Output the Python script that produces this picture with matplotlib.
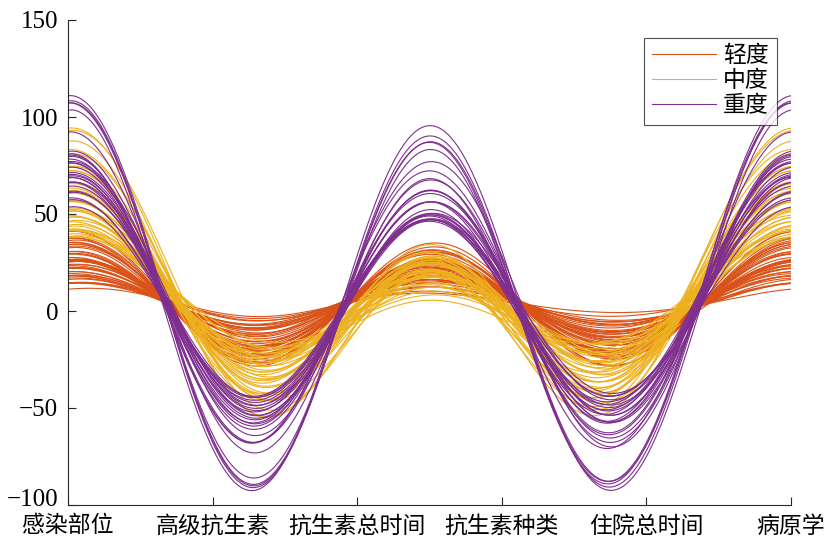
import numpy as np
import pandas as pd
import matplotlib
matplotlib.use("Agg")
import matplotlib.pyplot as plt
import matplotlib.transforms as mtransforms

plt.rcParams['font.family'] = ['Liberation Serif', 'Noto Sans CJK SC', 'DejaVu Sans']
plt.rcParams['axes.unicode_minus'] = True

variables = ['感染部位', '高级抗生素', '抗生素总时间', '抗生素种类', '住院总时间', '病原学']
groups = ['轻度', '中度', '重度']
colors = ['#D95319', '#EDB120', '#7E2F8E']

# ---- 轻度 ----
mild_site  = [6,5,7,6,6, 5,7,6,5,6, 7,6,5,6,6, 7,5,6,6,5, 7,6,6,5,6, 7,6,5,6,6, 5,7,6,6,5, 6,7,5,6,6, 7,5,6,6]
mild_adv   = [0,1,0,0,1, 0,1,0,0,1, 0,0,1,0,1, 0,0,1,0,0, 1,0,1,0,0, 1,0,0,1,0, 0,1,0,1,0, 0,1,0,0,1, 0,1,0,0]
mild_abt   = [2,3,1,2,4, 1,2,3,0,2, 3,1,2,4,1, 3,2,0,3,2, 1,2,4,1,3, 2,0,2,1,3, 2,4,1,2,3, 0,2,3,1,2, 1,3,2,1]
mild_kind  = [1,2,1,2,3, 1,1,2,2,1, 3,1,2,2,1, 2,2,1,3,2, 1,1,2,2,3, 2,1,2,1,2, 2,3,2,1,2, 1,2,2,2,3, 1,2,1,1]
mild_stay  = [8,31,12,19,25, 10,15,28,22,17, 33,13,20,26,9, 18,24,14,29,21, 11,16,27,23,30, 19,12,25,15,22, 18,32,20,14,26, 10,17,24,21,28, 16,23,13,6]
mild_path  = [1,0,0,1,0, 1,0,1,1,0, 0,1,0,1,0, 1,0,0,1,1, 0,1,0,0,1, 0,1,1,0,0, 1,0,1,0,1, 1,0,0,1,0, 1,0,0,1]

# ---- 中度 ----
mod_site  = [6,5,6,7,6, 5,6,6,7,5, 6,6,5,7,6, 6,5,6,7,6, 5,6,6,7,5, 6,6,5,7,6, 6,5,6,7,6, 5,6,6]
mod_adv   = [1,0,1,1,0, 1,0,1,1,0, 1,0,1,1,0, 1,0,1,0,1, 1,0,1,0,1, 1,0,1,0,1, 1,0,1,1,0, 1,0,1]
mod_abt   = [34,30,20,28,22, 18,24,20,16,22, 18,14,20,16,12, 18,15,12,17,14, 10,16,12,14,10, 16,12,14,10,16, 13,18,15,36,32, 28,24,20]
mod_kind  = [2,3,2,2,3, 1,2,3,2,2, 1,3,2,2,3, 2,1,2,3,2, 2,1,3,2,2, 3,2,1,2,2, 3,2,2,3,2, 2,1,2]
mod_stay  = [56,54,50,48,46, 45,44,42,41,40, 39,38,37,36,35, 34,33,32,31,30, 30,29,28,27,26, 26,25,24,23,22, 21,20,19,52,47, 43,35,28]
mod_path  = [1,1,0,1,0, 1,1,0,1,1, 0,1,1,0,1, 0,1,1,0,1, 1,0,1,0,1, 1,0,1,1,0, 1,1,0,1,0, 1,1,0]

# ---- 重度 ----
sev_site  = [6,7,6,6,5, 6,7,6,5,6, 6,7,6,5,6, 6,7,6,5,6, 6,7,5,6,6, 7,6,5]
sev_adv   = [1,1,0,1,1, 0,1,1,0,1, 1,0,1,1,1, 0,1,1,0,1, 1,0,1,1,0, 1,1,0]
sev_abt   = [9,12,10,12,4, 12,2,4,6,10, 8,6,10,4,12, 7,14,5,10,12, 8,11,6,9,4, 7,5,3]
sev_kind  = [3,2,3,2,3, 2,3,2,3,3, 2,3,2,3,2, 3,2,3,3,2, 3,2,3,2,3, 3,2,3]
sev_stay  = [95,94,93,91,96, 76,74,72,70,68, 66,63,62,61,60, 59,58,57,56,55, 54,53,52,51,50, 49,48,47]
sev_path  = [1,1,1,0,1, 1,0,1,1,1, 0,1,1,1,0, 1,1,0,1,1, 1,0,1,1,0, 1,1,1]

tables = [
    pd.DataFrame(dict(zip(variables, [mild_site, mild_adv, mild_abt, mild_kind, mild_stay, mild_path]))),
    pd.DataFrame(dict(zip(variables, [mod_site, mod_adv, mod_abt, mod_kind, mod_stay, mod_path]))),
    pd.DataFrame(dict(zip(variables, [sev_site, sev_adv, sev_abt, sev_kind, sev_stay, sev_path]))),
]

t = np.linspace(0, 1, 301)
basis = np.vstack([
    np.full_like(t, 1 / np.sqrt(2)),
    np.sin(2 * np.pi * t), np.cos(2 * np.pi * t),
    np.sin(4 * np.pi * t), np.cos(4 * np.pi * t),
    np.sin(6 * np.pi * t),
])

fig = plt.figure(figsize=(8.27, 5.38), dpi=100)
ax = fig.add_axes([68 / 827, 1 - 505 / 538, 723 / 827, 485 / 538])

handles = []
for df, col, name in zip(tables, colors, groups):
    curves = df[variables].to_numpy(dtype=float) @ basis
    for k, y in enumerate(curves):
        ln, = ax.plot(t, y, color=col, lw=0.8, label=name if k == 0 else None)
        if k == 0:
            handles.append(ln)

ax.set_xlim(0, 1)
ax.set_ylim(-100, 150)
ax.set_xticks(np.linspace(0, 1, 6))
ax.set_xticklabels(variables)
ax.set_yticks([-100, -50, 0, 50, 100, 150])
for s in ['top', 'right']:
    ax.spines[s].set_visible(False)
for s in ['left', 'bottom']:
    ax.spines[s].set_color('#262626')
    ax.spines[s].set_linewidth(0.8)
ax.tick_params(direction='in', length=6, width=0.8, colors='#262626')
ax.tick_params(axis='x', labelsize=16.5, pad=8)
ax.tick_params(axis='y', labelsize=18, pad=7)
for lab in ax.get_xticklabels() + ax.get_yticklabels():
    lab.set_color('black')

# lift the lowest y label slightly, as in the reference
fig.canvas.draw()
ylabs = ax.get_yticklabels()
ylabs[0].set_transform(ylabs[0].get_transform() +
                       mtransforms.ScaledTranslation(0, 7 / 100, fig.dpi_scale_trans))

leg = ax.legend(handles=handles, loc='upper right', bbox_to_anchor=(0.98, 0.963),
                fontsize=16.5, frameon=True, fancybox=False, edgecolor='#262626',
                handlelength=2.8, handletextpad=0.3, borderpad=0.35, labelspacing=0.15,
                borderaxespad=0)
leg.get_frame().set_linewidth(0.8)

fig.savefig('out.png', dpi=100)
